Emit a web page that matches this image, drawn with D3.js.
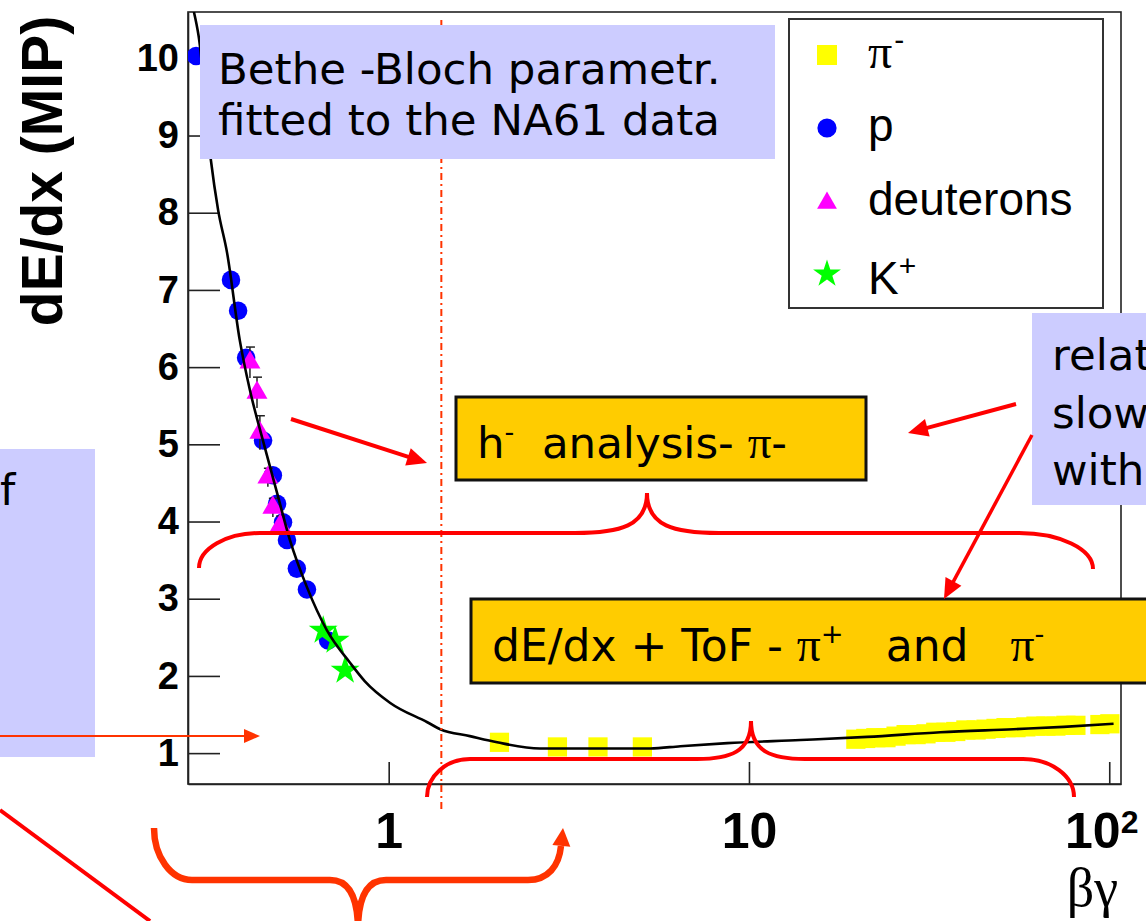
<!DOCTYPE html>
<html>
<head>
<meta charset="utf-8">
<script src="https://cdn.jsdelivr.net/npm/d3@7"></script>
<style>
  html, body { margin: 0; padding: 0; background: #fff; }
  svg { display: block; }
</style>
</head>
<body>
<svg id="chart" width="1146" height="921"></svg>
<script>
// ---- measured samples: beta*gamma vs. dE/dx (MIP units) ----
const pionBG     = [2.03, 2.94, 3.81, 5.06,
                    19.8, 21.1, 22.5, 24.0, 25.6, 27.3, 29.1, 31.0, 33.0, 35.2, 37.5, 40.0, 42.7,
                    45.5, 48.5, 51.7, 55.1, 58.7, 62.6, 66.7, 71.1, 75.8, 80.8, 94.2, 100.4];
const pionDEDX   = [1.14, 1.08, 1.08, 1.08,
                    1.18, 1.19, 1.20, 1.20, 1.22, 1.24, 1.24, 1.25, 1.27, 1.27, 1.28, 1.30, 1.30,
                    1.31, 1.32, 1.33, 1.33, 1.34, 1.35, 1.35, 1.35, 1.36, 1.36, 1.37, 1.38];

const protonBG   = [0.292, 0.365, 0.382, 0.402, 0.448, 0.477, 0.490, 0.509, 0.522, 0.556, 0.593, 0.679];
const protonDEDX = [10.03, 7.13, 6.73, 6.12, 5.05, 4.60, 4.23, 3.99, 3.76, 3.39, 3.12, 2.46];

const deuteronBG   = [0.412, 0.431, 0.439, 0.462, 0.477, 0.500];
const deuteronDEDX = [6.06, 5.67, 5.15, 4.57, 4.18, 3.95];
const deuteronErr  = [0.20, 0.20, 0.22, 0.12, 0.12, 0.12];

const kaonBG   = [0.658, 0.710, 0.757];
const kaonDEDX = [2.59, 2.46, 2.07];

// Bethe-Bloch parametrisation, sampled along the fitted curve
const fitBG   = [0.288, 0.297, 0.321, 0.336, 0.356, 0.386, 0.412, 0.447, 0.490, 0.532, 0.593, 0.674, 0.781, 0.859, 1.01, 1.28, 1.39, 1.68, 2.00, 2.63, 5.32, 6.45, 8.71, 13.9, 21.3, 34.0, 54.2, 74.7, 102.8];
const fitDEDX = [10.60, 10.28, 8.68, 8.04, 7.48, 6.35, 5.70, 5.06, 4.37, 3.76, 3.15, 2.59, 2.17, 1.93, 1.65, 1.40, 1.31, 1.22, 1.14, 1.06, 1.06, 1.09, 1.13, 1.17, 1.21, 1.27, 1.31, 1.34, 1.38];

// beta*gamma where the h- analysis starts
const cutBG = 1.4;

// ---- axes ----
const xTickValues = [1, 10, 100];
const xTickLabels = ["1", "10", "10"];
const xTickExponents = ["", "", "2"];
const yTickValues = [1, 2, 3, 4, 5, 6, 7, 8, 9, 10];
const yTickLabels = ["1", "2", "3", "4", "5", "6", "7", "8", "9", "10"];

const legendLabels = [["π", "-"], ["p", ""], ["deuterons", ""], ["K", "+"]];

// ---------------------------------------------------------------
const svg = d3.select("#chart");
const frame = { left: 188, right: 1121, top: 12, bottom: 784 };

const x = d3.scaleLog().domain([0.2773, 107.8]).range([frame.left, frame.right]);
const y = d3.scaleLinear().domain([0.6, 10.6]).range([frame.bottom, frame.top]);

svg.append("rect").attr("width", 1146).attr("height", 921).attr("fill", "#fff");

svg.append("defs").append("clipPath").attr("id", "plotClip")
  .append("rect")
  .attr("x", frame.left).attr("y", frame.top)
  .attr("width", frame.right - frame.left).attr("height", frame.bottom - frame.top);

// frame
svg.append("rect")
  .attr("x", frame.left).attr("y", frame.top)
  .attr("width", frame.right - frame.left).attr("height", frame.bottom - frame.top)
  .attr("fill", "none").attr("stroke", "#222").attr("stroke-width", 1.6);

const axisFont = "'Liberation Sans', Arial, Helvetica, sans-serif";

// y axis: inward ticks
const yMinor = d3.range(4, 53).map(i => +(i * 0.2).toFixed(1)).filter(v => Math.abs(v - Math.round(v)) > 0.01);
const yAxisMajor = d3.axisLeft(y).tickValues(yTickValues)
  .tickFormat((d, i) => yTickLabels[i]).tickSizeInner(-32).tickSizeOuter(0).tickPadding(9);
const yAxisMinor = d3.axisLeft(y).tickValues(yMinor)
  .tickFormat("").tickSizeInner(-17).tickSizeOuter(0);

const gy = svg.append("g").attr("transform", `translate(${frame.left},0)`);
gy.call(yAxisMinor);
gy.call(yAxisMajor);
gy.selectAll("path.domain").attr("stroke", "#222").attr("stroke-width", 1.6);
gy.selectAll(".tick line").attr("stroke", "#222").attr("stroke-width", 1.6);
gy.selectAll(".tick text")
  .attr("font-family", axisFont).attr("font-weight", "bold")
  .attr("font-size", 38).attr("fill", "#000");

// x axis: inward ticks
const xMinor = [];
[0.1, 1, 10].forEach(dec => { for (let k = 2; k <= 9; k++) xMinor.push(+(dec * k).toPrecision(3)); });
const xMinorIn = xMinor.filter(v => v >= x.domain()[0] && v <= x.domain()[1]);

const xAxisMajor = d3.axisBottom(x).tickValues(xTickValues)
  .tickFormat((d, i) => xTickLabels[i]).tickSizeInner(-22).tickSizeOuter(0).tickPadding(28);
const xAxisMinor = d3.axisBottom(x).tickValues(xMinorIn)
  .tickFormat("").tickSizeInner(-12).tickSizeOuter(0);

const gx = svg.append("g").attr("transform", `translate(0,${frame.bottom})`);
gx.call(xAxisMinor);
gx.call(xAxisMajor);
gx.selectAll("path.domain").attr("stroke", "#222").attr("stroke-width", 1.6);
gx.selectAll(".tick line").attr("stroke", "#222").attr("stroke-width", 1.6);
gx.selectAll(".tick text")
  .attr("font-family", axisFont).attr("font-weight", "bold")
  .attr("font-size", 50).attr("fill", "#000")
  .each(function (d) {
    const idx = xTickValues.indexOf(d);
    if (idx >= 0 && xTickExponents[idx]) {
      const t = d3.select(this);
      t.attr("dx", "-8");
      t.append("tspan").attr("font-size", 32).attr("dy", "-0.45em").text(xTickExponents[idx]);
    }
  });

// axis titles
svg.append("text")
  .attr("transform", "translate(62,171) rotate(-90)")
  .attr("text-anchor", "middle")
  .attr("font-family", axisFont).attr("font-weight", "bold").attr("font-size", 57)
  .text("dE/dx (MIP)");

svg.append("text")
  .attr("x", 1118).attr("y", 906).attr("text-anchor", "end")
  .attr("font-family", "'Liberation Serif', 'Times New Roman', serif").attr("font-size", 54)
  .text("βγ");

// ---- data ----
const plot = svg.append("g").attr("clip-path", "url(#plotClip)");

const zip = (a, b) => a.map((v, i) => [v, b[i]]);

const protonSym = d3.symbol().type(d3.symbolCircle).size(270);
const deutSym = d3.symbol().type(d3.symbolTriangle).size(190);
const kaonSym = d3.symbol().type(d3.symbolStar).size(260);
const pionSym = d3.symbol().type(d3.symbolSquare).size(370);

plot.append("g").selectAll("path").data(zip(protonBG, protonDEDX)).join("path")
  .attr("d", protonSym).attr("fill", "#0000ff")
  .attr("transform", d => `translate(${x(d[0])},${y(d[1])})`);

// deuteron error bars
const eb = plot.append("g").attr("stroke", "#222").attr("stroke-width", 1.5);
deuteronBG.forEach((bg, i) => {
  const cx = x(bg), y1 = y(deuteronDEDX[i] + deuteronErr[i]), y0 = y(deuteronDEDX[i] - deuteronErr[i]);
  eb.append("line").attr("x1", cx).attr("x2", cx).attr("y1", y1).attr("y2", y0);
  eb.append("line").attr("x1", cx - 4).attr("x2", cx + 5).attr("y1", y1).attr("y2", y1);
});

plot.append("g").selectAll("path").data(zip(deuteronBG, deuteronDEDX)).join("path")
  .attr("d", deutSym).attr("fill", "#ff00ff")
  .attr("transform", d => `translate(${x(d[0])},${y(d[1])})`);

plot.append("g").selectAll("path").data(zip(kaonBG, kaonDEDX)).join("path")
  .attr("d", kaonSym).attr("fill", "#00ff00")
  .attr("transform", d => `translate(${x(d[0])},${y(d[1])})`);

plot.append("g").selectAll("path").data(zip(pionBG, pionDEDX)).join("path")
  .attr("d", pionSym).attr("fill", "#ffff00")
  .attr("transform", d => `translate(${x(d[0])},${y(d[1])})`);

// fitted curve
plot.append("path")
  .datum(zip(fitBG, fitDEDX))
  .attr("d", d3.line().x(d => x(d[0])).y(d => y(d[1])).curve(d3.curveMonotoneX))
  .attr("fill", "none").attr("stroke", "#000").attr("stroke-width", 2.6);

// ---- legend ----
const leg = svg.append("g");
leg.append("rect").attr("x", 789).attr("y", 19).attr("width", 314).attr("height", 289)
  .attr("fill", "#fff").attr("stroke", "#333").attr("stroke-width", 2);
const legSyms = [
  { sym: d3.symbol().type(d3.symbolSquare).size(400), fill: "#ffff00" },
  { sym: d3.symbol().type(d3.symbolCircle).size(290), fill: "#0000ff" },
  { sym: d3.symbol().type(d3.symbolTriangle).size(170), fill: "#ff00ff" },
  { sym: d3.symbol().type(d3.symbolStar).size(240), fill: "#00ff00" }
];
const legMarkY = [55, 128, 203, 274];
const legTextY = [68, 141, 215, 294];
legendLabels.forEach((lab, i) => {
  leg.append("path").attr("d", legSyms[i].sym).attr("fill", legSyms[i].fill)
    .attr("transform", `translate(827,${legMarkY[i]})`);
  const t = leg.append("text").attr("x", 868).attr("y", legTextY[i])
    .attr("font-family", axisFont).attr("font-size", 46).attr("fill", "#000");
  const main = t.append("tspan").text(lab[0]);
  if (lab[0] === "π") main.attr("font-family", "'Liberation Serif', 'Times New Roman', serif").attr("font-size", 48);
  if (lab[1]) t.append("tspan").attr("font-size", 30).attr("dy", -18).attr("dx", lab[1] === "-" ? 2 : 0).text(lab[1]);
});

// ---- annotations ----
const annFont = "'DejaVu Sans', Tahoma, Verdana, sans-serif";
const piFont = "'Liberation Serif', 'Times New Roman', serif";
const ann = svg.append("g");

// start of the h- analysis range
ann.append("line")
  .attr("x1", x(cutBG)).attr("x2", x(cutBG)).attr("y1", 20).attr("y2", 810)
  .attr("stroke", "#ff3300").attr("stroke-width", 2).attr("stroke-dasharray", "7,4,2,4");

function richText(g, xx, yy, parts, size) {
  const t = g.append("text").attr("x", xx).attr("y", yy)
    .attr("font-family", annFont).attr("font-size", size).attr("fill", "#000");
  let shift = 0;
  parts.forEach(p => {
    const s = t.append("tspan").text(p.t);
    if (p.pi) s.attr("font-family", piFont).attr("font-size", size * 1.08);
    if (p.sup) { s.attr("font-size", size * 0.62).attr("dy", -size * 0.4 - shift); shift = -size * 0.4; }
    else if (shift !== 0) { s.attr("dy", -shift); shift = 0; }
  });
  return t;
}

// blue notes
ann.append("rect").attr("x", 200).attr("y", 25).attr("width", 575).attr("height", 134).attr("fill", "#ccccff");
richText(ann, 218, 84, [{ t: "Bethe -Bloch parametr." }], 43.5);
richText(ann, 218, 135, [{ t: "fitted to the NA61 data" }], 43.5);

ann.append("rect").attr("x", 0).attr("y", 449).attr("width", 95).attr("height", 308).attr("fill", "#ccccff");
richText(ann, 0, 505, [{ t: "f" }], 43.5);

ann.append("rect").attr("x", 1032).attr("y", 313).attr("width", 120).attr("height", 192).attr("fill", "#ccccff");
richText(ann, 1052, 370, [{ t: "relat" }], 43.5);
richText(ann, 1052, 428, [{ t: "slow" }], 43.5);
richText(ann, 1052, 485, [{ t: "with" }], 43.5);

// analysis boxes
ann.append("rect").attr("x", 456).attr("y", 397).attr("width", 410).attr("height", 83)
  .attr("fill", "#ffcc00").attr("stroke", "#111").attr("stroke-width", 3);
richText(ann, 477, 458, [{ t: "h" }, { t: "-", sup: true }, { t: "\u00a0 analysis- " }, { t: "π", pi: true }, { t: "-" }], 43.5);

ann.append("rect").attr("x", 471).attr("y", 599).attr("width", 690).attr("height", 84)
  .attr("fill", "#ffcc00").attr("stroke", "#111").attr("stroke-width", 3);
richText(ann, 492, 661, [{ t: "dE/dx + ToF - " }, { t: "π", pi: true }, { t: "+", sup: true },
  { t: "\u00a0\u00a0 and\u00a0\u00a0 " }, { t: "π", pi: true }, { t: "-", sup: true }], 44);

// braces
const brace = (d, color, w) => ann.append("path").attr("d", d).attr("fill", "none")
  .attr("stroke", color).attr("stroke-width", w).attr("stroke-linecap", "butt");

brace("M199,568 A61,35 0 0 1 260,533 L575,533 C620,533 647,526 647,493 C647,526 674,533 719,533 L1019,533 A74,36 0 0 1 1093,569", "#ff0000", 4);
brace("M427,797 A43,38 0 0 1 470,759 L697,759 C730,759 751,752 751,721 C751,752 772,759 805,759 L1023,759 A51,38 0 0 1 1074,797", "#ff0000", 4);
brace("M154,828 A38,52 0 0 0 192,880 L330,880 C350,880 358,900 358,930 M358,930 C358,900 366,880 386,880 L528,880 C548,880 559,866 561,846", "#ff3300", 6.5);

function arrow(x1, y1, x2, y2, color, w, len, half) {
  const dx = x2 - x1, dy = y2 - y1, L = Math.hypot(dx, dy);
  const ux = dx / L, uy = dy / L;
  const bx = x2 - ux * len, by = y2 - uy * len;
  ann.append("line").attr("x1", x1).attr("y1", y1).attr("x2", bx + ux * 2).attr("y2", by + uy * 2)
    .attr("stroke", color).attr("stroke-width", w);
  ann.append("path")
    .attr("d", `M${x2},${y2} L${bx - uy * half},${by + ux * half} L${bx + uy * half},${by - ux * half} Z`)
    .attr("fill", color);
}

// arrowhead of the bottom brace
arrow(561, 850, 563, 828, "#ff3300", 0.1, 18, 9);
arrow(291, 419, 427, 463, "#ff0000", 4, 20, 9);
arrow(1016, 404, 908, 433, "#ff0000", 4, 20, 9);
arrow(1032, 435, 944, 599, "#ff0000", 3.5, 20, 9);
arrow(0, 736, 260, 736, "#ff3300", 2, 16, 7);

ann.append("line").attr("x1", 0).attr("y1", 810).attr("x2", 150).attr("y2", 921)
  .attr("stroke", "#ff0000").attr("stroke-width", 4);
</script>
</body>
</html>
